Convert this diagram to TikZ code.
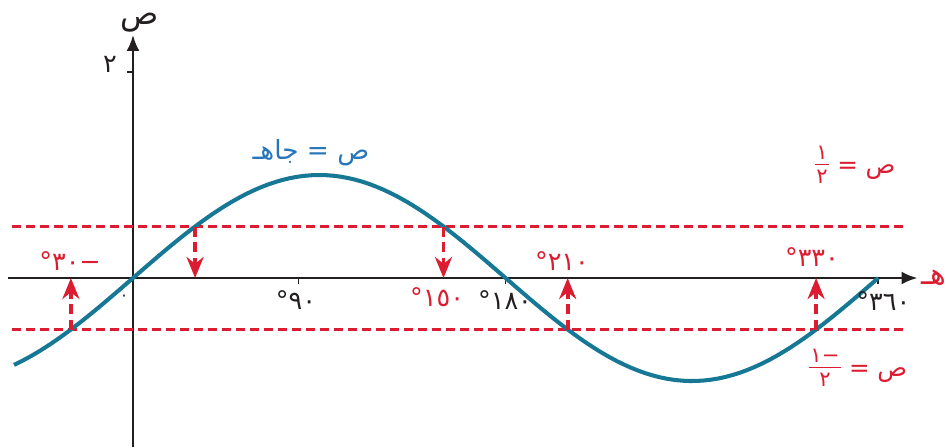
\documentclass[tikz,border=0pt]{standalone}
\usepackage{fontspec}
\usepackage{tikz}
\usetikzlibrary{arrows.meta}
\newfontfamily\arabicfont[Script=Arabic]{DejaVu Sans}
\newfontfamily\digitfont{DejaVu Sans}
\TeXXeTstate=1
\definecolor{sinecurve}{RGB}{22, 120, 148}
\definecolor{sinelabel}{RGB}{40, 118, 186}
\definecolor{halfred}{RGB}{220, 28, 48}
\definecolor{axisblack}{RGB}{35, 31, 32}
\newcommand{\halffrac}[1]{{\digitfont\fontsize{12}{12}\selectfont
  \renewcommand{\arraystretch}{0.9}\setlength{\tabcolsep}{1pt}%
  \begin{tabular}[c]{c}#1\\[-1pt]\hline\rule{0pt}{11pt}٢\end{tabular}}}

\begin{document}
\begin{tikzpicture}[x=0.0414cm, y=2.06cm,
    axis/.style={line width=1.5pt, axisblack, -{Latex[length=3.2mm, width=2.6mm]}},
    halfline/.style={line width=1.9pt, halfred, dash pattern=on 1.8mm off 1.0mm},
    droparrow/.style={line width=2.1pt, halfred, dash pattern=on 2mm off 1.1mm, -{Stealth[length=4.2mm, width=3.4mm]}},
    anglelabel/.style={font=\digitfont\fontsize{14.5}{16}\selectfont},
    arabiclabel/.style={font=\arabicfont\fontsize{14}{16}\selectfont}]
    \useasboundingbox (-64.25,-1.641) rectangle (392.75,2.699);

    % axes
    \coordinate (xstart) at (-60.4,0);
    \coordinate (xend) at (379,0);
    \coordinate (ystart) at (0,-1.641);
    \coordinate (yend) at (0,2.36);
    \draw[axis] (xstart) -- (xend);
    \draw[axis] (ystart) -- (yend);
    \node[arabiclabel, halfred, anchor=west, inner sep=2pt, font=\arabicfont\fontsize{17}{18}\selectfont] (hlabel) at (xend) {هـ};
    \node[arabiclabel, axisblack, inner sep=0pt, font=\arabicfont\fontsize{18}{18}\selectfont] (slabel) at (3,2.48) {ص};

    % ticks
    \draw[axisblack, line width=1pt] (80,0) -- (80,-0.06);
    \draw[axisblack, line width=1pt] (180,0) -- (180,-0.06);
    \draw[axisblack, line width=1pt] (360,0) -- (360,-0.06);
    \draw[axisblack, line width=1pt] (0,2) -- (-3,2);
    \node[anglelabel, axisblack] (two) at (-11.1,2.07) {٢};
    \node[anglelabel, axisblack, font=\digitfont\fontsize{9}{9}\selectfont] (zero) at (-4.3,-0.194) {٠};

    % y = 1/2 and y = -1/2
    \draw[halfline] (-58.5,0.5) -- (373,0.5);
    \draw[halfline] (-58.5,-0.5) -- (373,-0.5);

    % the curve
    \draw[sinecurve, line width=2.3pt] plot[domain=-57.5:360, samples=120] (\x,{sin(\x)});

    % drops to the axis
    \coordinate (top30) at (30,0.5);
    \coordinate (foot30) at (30,0);
    \coordinate (top150) at (150,0.5);
    \coordinate (foot150) at (150,0);
    \coordinate (low-30) at (-30,-0.5);
    \coordinate (foot-30) at (-30,0);
    \coordinate (low210) at (210,-0.5);
    \coordinate (foot210) at (210,0);
    \coordinate (low330) at (330,-0.5);
    \coordinate (foot330) at (330,0);
    \draw[droparrow] (top30) -- (foot30);
    \draw[droparrow] (top150) -- (foot150);
    \draw[droparrow] (low-30) -- (foot-30);
    \draw[droparrow] (low210) -- (foot210);
    \draw[droparrow] (low330) -- (foot330);

    % angle labels
    \node[anglelabel, halfred] (a-30) at (-30.4,0.165) {°٣٠−};
    \node[anglelabel, halfred] (a210) at (207.2,0.16) {°٢١٠};
    \node[anglelabel, halfred] (a330) at (328,0.2) {°٣٣٠};
    \node[anglelabel, halfred] (a150) at (146.9,-0.19) {°١٥٠};
    \node[anglelabel, axisblack] (a90) at (78.7,-0.214) {°٩٠};
    \node[anglelabel, axisblack] (a180) at (179.7,-0.214) {°١٨٠};
    \node[anglelabel, axisblack] (a360) at (362.5,-0.223) {°٣٦٠};

    % equations
    \node[arabiclabel, sinelabel, font=\arabicfont\fontsize{15}{16}\selectfont] (sineq) at (86,1.214) {\beginR ص = جاهـ\endR};
    \node[arabiclabel, halfred] (upeq) at (348.8,1.068) {\halffrac{١} = ص};
    \node[arabiclabel, halfred] (loweq) at (350.2,-0.9) {\halffrac{١−} = ص};
\end{tikzpicture}
\end{document}
